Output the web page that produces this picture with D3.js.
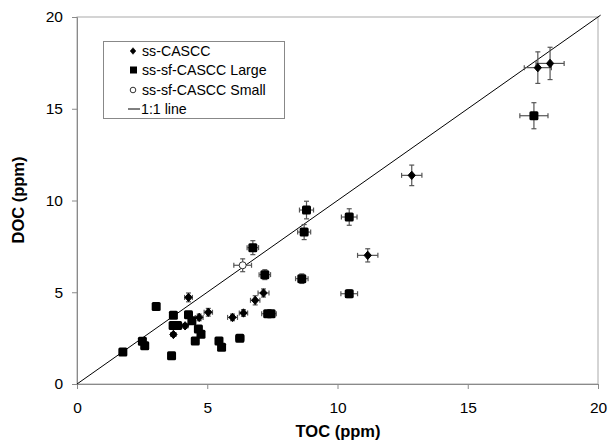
<!DOCTYPE html>
<html><head><meta charset="utf-8">
<script src="https://cdn.jsdelivr.net/npm/d3@7"></script>
<style>body{margin:0;background:#fff}svg{display:block}text{font-family:"Liberation Sans",Arial,sans-serif}</style>
</head><body><svg id="c" width="608" height="443"></svg>
<script>
// ss-CASCC (diamonds): [TOC, DOC, errTOC, errDOC]
const ssCASCC = [
  [17.69,17.24,0.52,0.86],[18.16,17.47,0.54,0.88],[12.85,11.37,0.39,0.56],[11.16,7.01,0.39,0.36],
  [4.28,4.72,0.15,0.24],[7.16,4.96,0.21,0.22],[6.84,4.56,0.18,0.25],[5.04,3.91,0.16,0.21],
  [6.39,3.87,0.16,0.18],[5.97,3.63,0.19,0.18],[4.69,3.63,0.15,0.18],[4.15,3.17,0.12,0.12],
  [3.70,2.70,0.10,0.10]
];
// ss-sf-CASCC Large (squares)
const ssSfLarge = [
  [17.54,14.62,0.54,0.71],[8.81,9.48,0.27,0.48],[10.45,9.10,0.30,0.45],[8.72,8.28,0.25,0.41],
  [6.75,7.43,0.22,0.38],[7.21,5.96,0.22,0.27],[8.63,5.74,0.24,0.26],[10.45,4.92,0.32,0.21],
  [7.32,3.83,0.23,0.17],[7.45,3.83,0.20,0.15],[6.25,2.49,0.16,0.15],[3.04,4.23,0.06,0.10],
  [3.70,3.75,0.06,0.08],[4.28,3.78,0.08,0.08],[4.41,3.45,0.06,0.06],[3.69,3.19,0.06,0.06],
  [3.86,3.19,0.06,0.06],[4.66,3.00,0.06,0.06],[4.76,2.71,0.06,0.06],[4.54,2.34,0.06,0.06],
  [5.45,2.34,0.08,0.06],[5.55,2.00,0.08,0.06],[2.51,2.33,0.05,0.05],[2.60,2.09,0.05,0.05],
  [1.76,1.74,0.05,0.05],[3.63,1.54,0.05,0.05]
];
// ss-sf-CASCC Small (open circles)
const ssSfSmall = [[6.36,6.47,0.34,0.35]];
const xTicks = [0,5,10,15,20];
const yTicks = [0,5,10,15,20];
const legendLabels = ["ss-CASCC","ss-sf-CASCC Large","ss-sf-CASCC Small","1:1 line"];

const svg = d3.select("#c");
const x = d3.scaleLinear().domain([0,20]).range([77,598]);
const y = d3.scaleLinear().domain([0,20]).range([384,17]);
const axisCol = "#8a8a8a";

svg.append("rect").attr("x",77).attr("y",17).attr("width",521).attr("height",367)
  .attr("fill","none").attr("stroke","#aaa").attr("stroke-width",1);

const xa = svg.append("g").attr("transform","translate(0,384)")
  .call(d3.axisBottom(x).tickValues(xTicks).tickSize(5).tickPadding(13));
const ya = svg.append("g").attr("transform","translate(77,0)")
  .call(d3.axisLeft(y).tickValues(yTicks).tickSize(5).tickPadding(9));
[xa,ya].forEach(a=>{
  a.select(".domain").attr("stroke",axisCol);
  a.selectAll(".tick line").attr("stroke",axisCol);
  a.selectAll("text").attr("font-size",15.5).attr("fill","#000").attr("font-family","'Liberation Sans',Arial,sans-serif");
});

svg.append("text").attr("x",338).attr("y",437).attr("text-anchor","middle")
  .attr("font-size",16.5).attr("font-weight","bold").text("TOC (ppm)");
svg.append("text").attr("transform","translate(24,200) rotate(-90)").attr("text-anchor","middle")
  .attr("font-size",16.5).attr("font-weight","bold").text("DOC (ppm)");

svg.append("line").attr("x1",x(0)).attr("y1",y(0)).attr("x2",x(20.1)).attr("y2",y(20.1))
  .attr("stroke","#000").attr("stroke-width",1);

function errBars(data){
  const g = svg.append("g").attr("stroke","#555").attr("stroke-width",1.2);
  data.forEach(d=>{
    const cx=x(d[0]), cy=y(d[1]);
    const x0=x(d[0]-d[2]), x1=x(d[0]+d[2]), y0=y(d[1]-d[3]), y1=y(d[1]+d[3]);
    g.append("line").attr("x1",x0).attr("x2",x1).attr("y1",cy).attr("y2",cy);
    g.append("line").attr("x1",x0).attr("x2",x0).attr("y1",cy-2.5).attr("y2",cy+2.5);
    g.append("line").attr("x1",x1).attr("x2",x1).attr("y1",cy-2.5).attr("y2",cy+2.5);
    g.append("line").attr("x1",cx).attr("x2",cx).attr("y1",y0).attr("y2",y1);
    g.append("line").attr("x1",cx-2.5).attr("x2",cx+2.5).attr("y1",y0).attr("y2",y0);
    g.append("line").attr("x1",cx-2.5).attr("x2",cx+2.5).attr("y1",y1).attr("y2",y1);
  });
}
errBars(ssCASCC); errBars(ssSfLarge); errBars(ssSfSmall);

const diamondPath = (w,h)=>`M0,${-h}L${w},0L0,${h}L${-w},0Z`;
svg.append("g").selectAll("path").data(ssCASCC).join("path")
  .attr("d",diamondPath(3.6,4.2)).attr("transform",d=>`translate(${x(d[0])},${y(d[1])})`)
  .attr("fill","#000").attr("stroke","#000").attr("stroke-width",1).attr("stroke-linejoin","round");
svg.append("g").selectAll("rect").data(ssSfLarge).join("rect")
  .attr("x",d=>x(d[0])-4.5).attr("y",d=>y(d[1])-4.5).attr("width",9).attr("height",9).attr("rx",1.5)
  .attr("fill","#000");
svg.append("g").selectAll("circle").data(ssSfSmall).join("circle")
  .attr("cx",d=>x(d[0])).attr("cy",d=>y(d[1])).attr("r",3.5)
  .attr("fill","#fff").attr("stroke","#333").attr("stroke-width",1);

const lg = svg.append("g");
lg.append("rect").attr("x",103.5).attr("y",41.5).attr("width",181).attr("height",77)
  .attr("fill","#fff").attr("stroke","#888");
const ly = [51,70,90,109];
lg.append("path").attr("d",diamondPath(2.8,3.3))
  .attr("transform",`translate(133,${ly[0]})`).attr("fill","#000").attr("stroke","#000").attr("stroke-width",0.6);
lg.append("rect").attr("x",130).attr("y",ly[1]-3.5).attr("width",7).attr("height",7).attr("fill","#000");
lg.append("circle").attr("cx",133).attr("cy",ly[2]).attr("r",2.8).attr("fill","#fff").attr("stroke","#333");
lg.append("line").attr("x1",128).attr("x2",140).attr("y1",ly[3]).attr("y2",ly[3]).attr("stroke","#000");
legendLabels.forEach((t,i)=>{
  lg.append("text").attr("x",i===3?141:142).attr("y",ly[i]+5).attr("font-size",14.2).text(t);
});
</script></body></html>
